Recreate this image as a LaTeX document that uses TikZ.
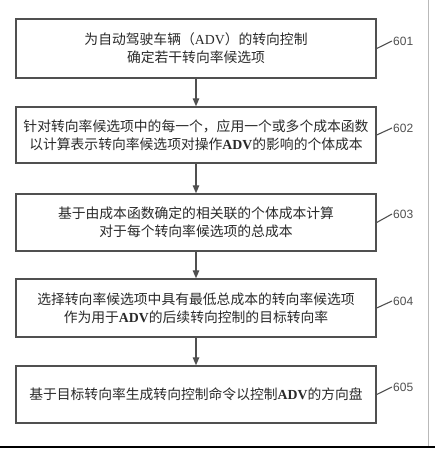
\documentclass[tikz,border=0pt]{standalone}
\usepackage{fontspec}
\setmainfont{Liberation Serif}
\setsansfont{Liberation Sans}
\newfontfamily\cjk{Noto Sans CJK SC}
\usetikzlibrary{arrows.meta}
\newcommand{\ADVtxt}{{\rmfamily\bfseries ADV}}
\newcommand{\ADVreg}{{\rmfamily ADV}}
\definecolor{edge}{HTML}{505050}
\definecolor{ink}{HTML}{2A2A2A}
\begin{document}
\begin{tikzpicture}[x=1pt,y=-1pt,
  box/.style={draw=edge, line width=1.4pt, minimum width=360pt, inner sep=0pt,
    align=center, text=ink, font=\cjk\fontsize{13.8}{18}\selectfont},
  flow/.style={draw=edge, line width=1.3pt, -{Triangle[length=8pt,width=6.5pt]}},
  lab/.style={anchor=west, inner sep=1pt, text=edge, font=\sffamily\fontsize{12}{14}\selectfont},
  tick/.style={draw=edge, line width=1.1pt}]
\useasboundingbox[fill=white] (0,0) rectangle (435,449);

\node[box, minimum height=59pt] (b1) at (196,48.5)
  {为自动驾驶车辆（\ADVreg）的转向控制\\确定若干转向率候选项};
\node[box, minimum height=56pt] (b2) at (196,135)
  {针对转向率候选项中的每一个，应用一个或多个成本函数\\以计算表示转向率候选项对操作\ADVtxt 的影响的个体成本};
\node[box, minimum height=57pt] (b3) at (196,222.5)
  {基于由成本函数确定的相关联的个体成本计算\\对于每个转向率候选项的总成本};
\node[box, minimum height=58pt] (b4) at (196,308)
  {选择转向率候选项中具有最低总成本的转向率候选项\\作为用于\ADVtxt 的后续转向控制的目标转向率};
\node[box, minimum height=57pt] (b5) at (196,394.5)
  {基于目标转向率生成转向控制命令以控制\ADVtxt 的方向盘};

\draw[flow] (b1) -- (b2);
\draw[flow] (b2) -- (b3);
\draw[flow] (b3) -- (b4);
\draw[flow] (b4) -- (b5);

\node[lab] (l1) at (392,41) {601};
\node[lab] (l2) at (392,128) {602};
\node[lab] (l3) at (392,214) {603};
\node[lab] (l4) at (392,301) {604};
\node[lab] (l5) at (392,387) {605};

\draw[tick] (b1.east) -- (l1.west);
\draw[tick] (b2.east) -- (l2.west);
\draw[tick] (b3.east) -- (l3.west);
\draw[tick] (b4.east) -- (l4.west);
\draw[tick] (b5.east) -- (l5.west);

\coordinate (fr1) at (428.5,0);
\coordinate (fr2) at (428.5,447);
\coordinate (fr3) at (0,447);
\coordinate (fr4) at (435,447);
\draw[gray!55, line width=0.8pt] (fr1) -- (fr2);
\draw[black, line width=1.5pt] (fr3) -- (fr4);
\end{tikzpicture}
\end{document}
